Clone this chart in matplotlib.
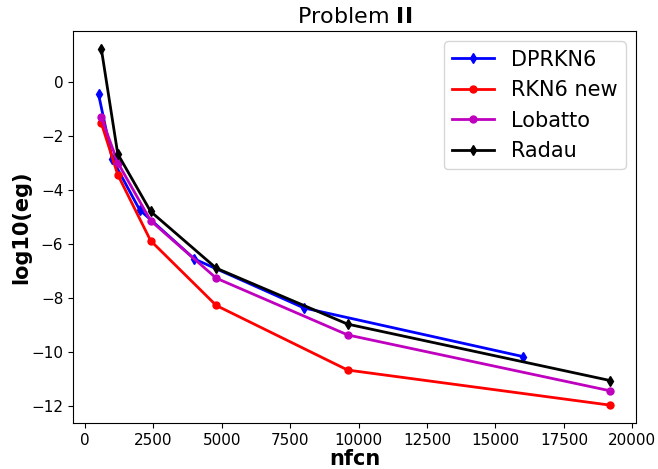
import matplotlib
matplotlib.use("Agg")
import matplotlib.pyplot as plt

dprkn6_x = [500, 1000, 2000, 4000, 8000, 16000]
dprkn6_y = [-0.47, -2.86, -4.74, -6.56, -8.37, -10.17]

rkn6_x = [600, 1200, 2400, 4800, 9600, 19200]
rkn6_y = [-1.53, -3.44, -5.88, -8.28, -10.67, -11.97]

lobatto_x = [600, 1200, 2400, 4800, 9600, 19200]
lobatto_y = [-1.32, -2.99, -5.14, -7.27, -9.37, -11.44]

radau_x = [600, 1200, 2400, 4800, 9600, 19200]
radau_y = [1.22, -2.67, -4.80, -6.90, -8.97, -11.06]

fig = plt.figure(figsize=(6.58, 4.69), dpi=100)
ax = fig.add_axes([73/658, 1-423/469, (636-73)/658, (423-31)/469])

lw = 2.0
ax.plot(dprkn6_x, dprkn6_y, 'b-d', lw=lw, ms=5, label='DPRKN6')
ax.plot(rkn6_x, rkn6_y, 'r-o', lw=lw, ms=5, label='RKN6 new')
ax.plot(lobatto_x, lobatto_y, 'm-o', lw=lw, ms=5, label='Lobatto')
ax.plot(radau_x, radau_y, 'k-d', lw=lw, ms=5, label='Radau')

ax.set_title(r'Problem $\mathbf{II}$', fontsize=16)
ax.set_xlabel('nfcn', fontsize=15, fontweight='bold', labelpad=1)
ax.set_ylabel('log10(eg)', fontsize=15, fontweight='bold', labelpad=0)
ax.tick_params(labelsize=11)
ax.set_xticks([0, 2500, 5000, 7500, 10000, 12500, 15000, 17500, 20000])
ax.set_yticks([0, -2, -4, -6, -8, -10, -12])
ax.legend(fontsize=15, loc='upper right')

fig.savefig('out.png', dpi=100)
